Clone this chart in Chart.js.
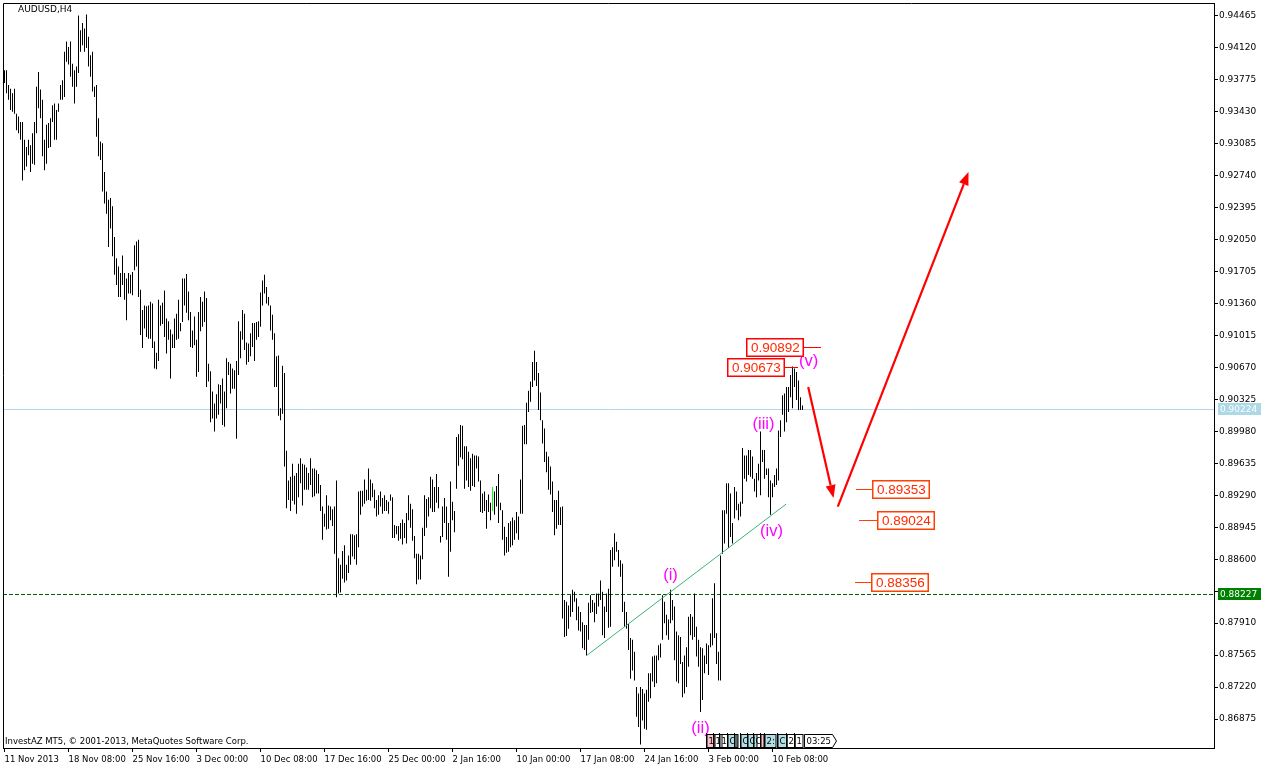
<!DOCTYPE html>
<html>
<head>
<meta charset="utf-8">
<script src="https://cdn.jsdelivr.net/npm/chart.js@4.4.0/dist/chart.umd.min.js"></script>
<style>
html, body { margin: 0; padding: 0; background: #fff; }
canvas { display: block; }
</style>
</head>
<body>
<canvas id="grafica" width="1267" height="771"></canvas>
<script>
// AUDUSD H4 - máximos y mínimos de cada vela
const highs = [
  0.9388,0.9388,0.9372,0.9368,0.9363,0.9368,0.9341,0.9338,0.9332,0.9332,
  0.9313,0.9305,0.9313,0.9307,0.9320,0.9332,0.9370,0.9386,0.9367,0.9356,
  0.9313,0.9329,0.9331,0.9336,0.9350,0.9352,0.9345,0.9352,0.9372,0.9377,
  0.9408,0.9419,0.9413,0.9419,0.9395,0.9388,0.9392,0.9447,0.9431,0.9439,
  0.9433,0.9448,0.9424,0.9404,0.9408,0.9370,0.9372,0.9336,0.9311,0.9309,
  0.9278,0.9257,0.9248,0.9250,0.9241,0.9208,0.9185,0.9176,0.9169,0.9188,
  0.9169,0.9163,0.9169,0.9167,0.9170,0.9199,0.9203,0.9205,
  0.9151,0.9129,0.9134,0.9133,0.9134,0.9138,0.9136,0.9095,0.9083,0.9140,
  0.9134,0.9137,0.9150,0.9120,0.9117,0.9108,0.9103,0.9120,0.9125,0.9140,
  0.9115,0.9163,0.9163,0.9168,0.9149,0.9127,0.9107,0.9122,0.9097,0.9127,
  0.9143,0.9138,0.9149,0.9142,0.9071,0.9063,0.9041,0.9028,0.9038,0.9049,
  0.9048,0.9055,0.9041,0.9077,0.9073,0.9071,0.9066,0.9064,0.9074,0.9117,
  0.9106,0.9129,0.9125,0.9094,0.9093,0.9104,0.9115,0.9115,0.9116,0.9117,
  0.9148,0.9161,0.9167,0.9154,0.9143,
  0.9134,0.9124,0.9104,0.9079,0.9080,0.9023,0.9069,0.9061,0.8977,0.8945,
  0.8949,0.8963,0.8950,0.8953,0.8963,0.8969,0.8963,0.8962,0.8959,0.8953,
  0.8969,0.8958,0.8958,0.8956,0.8952,0.8940,0.8917,0.8909,0.8929,0.8918,
  0.8917,0.8914,0.8917,0.8945,0.8861,0.8854,0.8869,0.8875,0.8854,0.8864,
  0.8887,0.8887,0.8886,0.8887,0.8933,0.8934,0.8934,0.8946,0.8935,0.8958,
  0.8946,0.8942,0.8935,0.8924,0.8929,0.8933,0.8926,0.8929,0.8924,0.8922,
  0.8930,0.8927,0.8897,0.8896,0.8896,0.8899,0.8903,0.8899,
  0.8910,0.8929,0.8920,0.8914,0.8885,0.8866,0.8866,0.8864,0.8894,0.8929,
  0.8925,0.8927,0.8949,0.8946,0.8938,0.8952,0.8938,0.8885,0.8917,0.8926,
  0.8917,0.8899,0.8944,0.8922,0.8912,0.8992,0.8995,0.9005,0.9004,0.8982,
  0.8982,0.8976,0.8969,0.8974,0.8972,0.8972,0.8971,0.8945,0.8931,0.8933,
  0.8924,0.8930,0.8921,0.8938,0.8933,0.8939,0.8952,0.8921,0.8913,0.8895,
  0.8884,0.8899,0.8901,0.8905,0.8902,0.8911,0.8906,0.8946,0.9004,0.9005,
  0.9029,0.9042,0.9052,0.9073,0.9085,0.9073,0.9061,
  0.9040,0.9010,0.9001,0.8976,0.8971,0.8960,0.8944,0.8924,0.8924,0.8934,
  0.8916,0.8917,0.8816,0.8814,0.8810,0.8821,0.8827,0.8825,0.8818,0.8809,
  0.8803,0.8792,0.8789,0.8789,0.8813,0.8821,0.8816,0.8813,0.8823,0.8823,
  0.8837,0.8825,0.8809,0.8823,0.8828,0.8870,0.8873,0.8888,0.8879,0.8870,
  0.8859,0.8855,0.8814,0.8803,0.8790,0.8775,0.8773,0.8760,0.8722,0.8715,
  0.8722,0.8720,0.8715,0.8719,0.8737,0.8737,0.8755,0.8756,0.8756,0.8767,
  0.8769,0.8821,0.8814,0.8800,0.8795,0.8827,0.8816,0.8809,
  0.8782,0.8778,0.8776,0.8749,0.8756,0.8765,0.8798,0.8801,0.8798,0.8823,
  0.8787,0.8773,0.8765,0.8764,0.8756,0.8769,0.8767,0.8780,0.8818,0.8834,
  0.8780,0.8760,0.8864,0.8913,0.8913,0.8942,0.8942,0.8931,0.8899,0.8938,
  0.8933,0.8920,0.8922,0.8980,0.8972,0.8972,0.8978,0.8978,0.8971,0.8947,
  0.8953,0.8963,0.8998,0.8978,0.8978,0.8958,0.8958,0.8945,0.8942,0.8951,
  0.8958,0.8999,0.9010,0.9037,0.9039,0.9046,0.9046,0.9059,0.9068,0.9066,
  0.9062,0.9053,0.9035,0.9026
];
const lows = [
  0.9374,0.9363,0.9356,0.9345,0.9343,0.9341,0.9323,0.9320,0.9313,0.9269,
  0.9280,0.9284,0.9296,0.9278,0.9287,0.9286,0.9320,0.9347,0.9336,0.9295,
  0.9280,0.9287,0.9304,0.9305,0.9332,0.9313,0.9313,0.9343,0.9356,0.9356,
  0.9359,0.9397,0.9394,0.9381,0.9370,0.9352,0.9370,0.9385,0.9408,0.9415,
  0.9408,0.9412,0.9392,0.9381,0.9365,0.9359,0.9316,0.9295,0.9291,0.9257,
  0.9244,0.9233,0.9197,0.9217,0.9187,0.9167,0.9156,0.9143,0.9143,0.9156,
  0.9140,0.9118,0.9147,0.9147,0.9145,0.9172,0.9176,0.9143,
  0.9102,0.9088,0.9109,0.9100,0.9098,0.9098,0.9088,0.9066,0.9065,0.9074,
  0.9112,0.9114,0.9100,0.9082,0.9097,0.9055,0.9088,0.9088,0.9097,0.9098,
  0.9106,0.9116,0.9134,0.9126,0.9118,0.9089,0.9088,0.9091,0.9057,0.9062,
  0.9106,0.9111,0.9116,0.9046,0.9052,0.9008,0.9012,0.8998,0.9012,0.9016,
  0.9028,0.9005,0.9003,0.9023,0.9059,0.9039,0.9044,0.9044,0.8990,0.9059,
  0.9077,0.9097,0.9086,0.9070,0.9073,0.9079,0.9089,0.9074,0.9097,0.9100,
  0.9111,0.9134,0.9147,0.9136,0.9134,
  0.9107,0.9097,0.9046,0.9046,0.9015,0.9010,0.9017,0.8960,0.8915,0.8924,
  0.8912,0.8923,0.8919,0.8909,0.8927,0.8942,0.8918,0.8935,0.8935,0.8935,
  0.8940,0.8927,0.8928,0.8931,0.8931,0.8912,0.8881,0.8895,0.8892,0.8893,
  0.8902,0.8896,0.8866,0.8819,0.8823,0.8824,0.8839,0.8835,0.8837,0.8845,
  0.8854,0.8863,0.8860,0.8854,0.8873,0.8908,0.8917,0.8920,0.8923,0.8924,
  0.8923,0.8927,0.8915,0.8906,0.8908,0.8917,0.8909,0.8912,0.8912,0.8909,
  0.8923,0.8883,0.8883,0.8887,0.8880,0.8882,0.8876,0.8883,
  0.8877,0.8902,0.8894,0.8880,0.8861,0.8833,0.8838,0.8838,0.8860,0.8885,
  0.8894,0.8906,0.8915,0.8911,0.8911,0.8921,0.8915,0.8878,0.8884,0.8899,
  0.8881,0.8841,0.8868,0.8902,0.8889,0.8936,0.8961,0.8970,0.8968,0.8936,
  0.8945,0.8938,0.8934,0.8939,0.8938,0.8958,0.8944,0.8911,0.8910,0.8912,
  0.8893,0.8911,0.8902,0.8912,0.8908,0.8917,0.8899,0.8913,0.8881,0.8864,
  0.8867,0.8868,0.8873,0.8875,0.8881,0.8888,0.8881,0.8909,0.8909,0.8984,
  0.8984,0.9019,0.9030,0.9046,0.9053,0.9047,0.9021,
  0.9010,0.8985,0.8965,0.8954,0.8935,0.8930,0.8911,0.8886,0.8893,0.8897,
  0.8897,0.8796,0.8776,0.8777,0.8785,0.8798,0.8803,0.8814,0.8794,0.8783,
  0.8782,0.8764,0.8762,0.8756,0.8773,0.8802,0.8803,0.8792,0.8801,0.8809,
  0.8816,0.8778,0.8775,0.8803,0.8786,0.8787,0.8852,0.8859,0.8868,0.8852,
  0.8841,0.8803,0.8787,0.8785,0.8762,0.8731,0.8740,0.8729,0.8690,0.8679,
  0.8660,0.8686,0.8677,0.8676,0.8706,0.8710,0.8728,0.8722,0.8726,0.8751,
  0.8754,0.8773,0.8791,0.8778,0.8773,0.8791,0.8794,0.8751,
  0.8728,0.8726,0.8747,0.8711,0.8715,0.8722,0.8744,0.8778,0.8773,0.8776,
  0.8755,0.8744,0.8695,0.8708,0.8737,0.8747,0.8735,0.8765,0.8767,0.8775,
  0.8747,0.8729,0.8729,0.8866,0.8877,0.8909,0.8872,0.8884,0.8877,0.8904,
  0.8913,0.8902,0.8906,0.8920,0.8947,0.8944,0.8951,0.8949,0.8947,0.8933,
  0.8927,0.8945,0.8929,0.8965,0.8947,0.8951,0.8927,0.8908,0.8927,0.8938,
  0.8940,0.8945,0.8992,0.9016,0.8998,0.9008,0.9019,0.9035,0.9023,0.9046,
  0.9032,0.9021,0.9021,0.9021
];
const greenBar = 244; // vela marcada en verde

// eje de tiempo: una etiqueta cada 32 velas
const timeLabelBars = [0, 32, 64, 96, 128, 160, 192, 224, 256, 288, 320, 352, 384];
const timeLabels = ["11 Nov 2013", "18 Nov 08:00", "25 Nov 16:00", "3 Dec 00:00", "10 Dec 08:00",
  "17 Dec 16:00", "25 Dec 00:00", "2 Jan 16:00", "10 Jan 00:00", "17 Jan 08:00",
  "24 Jan 16:00", "3 Feb 00:00", "10 Feb 08:00"];
// eje de precios
const priceTicks = [0.86875, 0.87220, 0.87565, 0.87910, 0.88255, 0.88600, 0.88945, 0.89290,
  0.89635, 0.89980, 0.90325, 0.90670, 0.91015, 0.91360, 0.91705, 0.92050, 0.92395,
  0.92740, 0.93085, 0.93430, 0.93775, 0.94120, 0.94465];

const bidPrice = 0.90224;
const levelPrice = 0.88227;
const trendLine = [{x: 291.3, y: 0.87564}, {x: 390.8, y: 0.89195}];
// ondas de Elliott (vela, precio)
const waveLabels = [
  {text: "(i)", bar: 333, price: 0.88429},
  {text: "(ii)", bar: 348, price: 0.86778},
  {text: "(iii)", bar: 379.5, price: 0.90060},
  {text: "(iv)", bar: 383.5, price: 0.88905},
  {text: "(v)", bar: 402, price: 0.90740}
];
// etiquetas de precio con su línea
const priceBoxes = [
  {text: "0.90892", price: 0.90892, from: 399.5, to: 408, side: "left"},
  {text: "0.90673", price: 0.90673, from: 390, to: 396.5, side: "left"},
  {text: "0.89353", price: 0.89353, from: 425.5, to: 433.5, side: "right"},
  {text: "0.89024", price: 0.89024, from: 427, to: 436, side: "right"},
  {text: "0.88356", price: 0.88356, from: 425, to: 433, side: "right"}
];
// flechas de proyección
const arrows = [
  {x1: 401.85, y1: 0.90459, x2: 414.5, y2: 0.89261},
  {x1: 416.65, y1: 0.89167, x2: 482, y2: 0.92781}
];
// líneas verticales de eventos abajo a la derecha
const eventMarks = [
  {bar: 350.8, text: "1", kind: 2}, {bar: 354.3, text: "1", kind: 0}, {bar: 357.3, text: "1", kind: 0},
  {bar: 361.3, text: "C", kind: 1}, {bar: 364.5, text: "", kind: 0}, {bar: 367.8, text: "C", kind: 1},
  {bar: 371.3, text: "C", kind: 1}, {bar: 374.3, text: "C", kind: 0}, {bar: 377.8, text: "", kind: 2},
  {bar: 379.8, text: "2:", kind: 1}, {bar: 386.3, text: "C", kind: 1}, {bar: 390.8, text: "2", kind: 0},
  {bar: 394.8, text: "1", kind: 0}
];
const timeLeft = "03:25";

const fontAxis = '"DejaVu Sans", Verdana, sans-serif';
const fontLabel = '"Liberation Sans", Arial, sans-serif';

function arrow(ctx, x1, y1, x2, y2) {
  const ang = Math.atan2(y2 - y1, x2 - x1);
  const len = 13, half = 5;
  const bx = x2 - Math.cos(ang) * len, by = y2 - Math.sin(ang) * len;
  ctx.beginPath();
  ctx.moveTo(x1, y1);
  ctx.lineTo(bx, by);
  ctx.stroke();
  ctx.beginPath();
  ctx.moveTo(x2, y2);
  ctx.lineTo(bx + Math.sin(ang) * half, by - Math.cos(ang) * half);
  ctx.lineTo(bx - Math.sin(ang) * half, by + Math.cos(ang) * half);
  ctx.closePath();
  ctx.fill();
}

const dibujo = {
  id: "dibujo",
  beforeDatasetsDraw(chart) {
    const {ctx, chartArea: a, scales: {y}} = chart;
    ctx.save();
    let py = Math.round(y.getPixelForValue(bidPrice)) + 0.5;
    ctx.strokeStyle = "#add8e6";
    ctx.lineWidth = 1;
    ctx.beginPath(); ctx.moveTo(a.left, py); ctx.lineTo(a.right, py); ctx.stroke();
    py = Math.round(y.getPixelForValue(levelPrice)) + 0.5;
    ctx.strokeStyle = "#006400";
    ctx.setLineDash([4, 2]);
    ctx.beginPath(); ctx.moveTo(a.left, py); ctx.lineTo(a.right, py); ctx.stroke();
    ctx.restore();
  },
  afterDatasetsDraw(chart) {
    const {ctx, scales: {x, y}} = chart;
    ctx.save();
    // ondas
    ctx.font = "16.5px " + fontLabel;
    ctx.fillStyle = "#ff00ff";
    ctx.textAlign = "center";
    ctx.textBaseline = "middle";
    waveLabels.forEach(w => ctx.fillText(w.text, x.getPixelForValue(w.bar), y.getPixelForValue(w.price)));
    // cajas de precio
    ctx.font = "13.5px " + fontLabel;
    ctx.textAlign = "left";
    priceBoxes.forEach(b => {
      const col = b.side === "left" ? "#ff0000" : "#ff4000";
      const py = Math.round(y.getPixelForValue(b.price)) + 0.5;
      const x1 = Math.round(x.getPixelForValue(b.from)), x2 = Math.round(x.getPixelForValue(b.to));
      ctx.strokeStyle = col;
      ctx.lineWidth = 1;
      ctx.beginPath(); ctx.moveTo(x1, py); ctx.lineTo(x2, py); ctx.stroke();
      const w = Math.round(ctx.measureText(b.text).width) + 9, h = 19;
      const bx = b.side === "left" ? x1 - w : x2;
      const by = Math.round(py - h / 2);
      ctx.fillStyle = "#fff";
      ctx.fillRect(bx, by, w, h);
      ctx.lineWidth = 1.5;
      ctx.strokeRect(bx + 0.75, by + 0.75, w - 1.5, h - 1.5);
      ctx.fillStyle = "#ff2a00";
      ctx.fillText(b.text, bx + 5, py + 1);
    });
    // flechas
    ctx.strokeStyle = "#ff0000";
    ctx.fillStyle = "#ff0000";
    ctx.lineWidth = 2.2;
    arrows.forEach(r => arrow(ctx, x.getPixelForValue(r.x1), y.getPixelForValue(r.y1),
      x.getPixelForValue(r.x2), y.getPixelForValue(r.y2)));
    ctx.restore();
  },
  afterDraw(chart) {
    const {ctx, chartArea: a, scales: {x, y}} = chart;
    ctx.save();
    // marco
    ctx.strokeStyle = "#000";
    ctx.lineWidth = 1;
    ctx.beginPath();
    ctx.moveTo(a.left + 0.5, a.bottom); ctx.lineTo(a.left + 0.5, a.top + 0.5); ctx.lineTo(a.right, a.top + 0.5);
    ctx.stroke();
    // cajas del eje de precios
    ctx.font = "9px " + fontAxis;
    ctx.textBaseline = "middle";
    [[bidPrice, "#add8e6"], [levelPrice, "#008000"]].forEach(([p, c]) => {
      const py = Math.round(y.getPixelForValue(p));
      ctx.fillStyle = c;
      ctx.fillRect(a.right + 4, py - 6, 43, 12);
      ctx.fillStyle = "#fff";
      ctx.fillText(p.toFixed(5), a.right + 6, py + 0.5);
    });
    // textos
    ctx.fillStyle = "#000";
    ctx.font = "9px " + fontAxis;
    ctx.fillText("AUDUSD,H4", a.left + 15, a.top + 7);
    ctx.font = "8.5px " + fontAxis;
    ctx.fillText("InvestAZ MT5, \u00a9 2001-2013, MetaQuotes Software Corp.", a.left + 2, a.bottom - 6);
    // eventos
    const top = a.bottom - 15;
    ctx.font = "8.5px " + fontAxis;
    eventMarks.forEach(m => {
      const px = Math.round(x.getPixelForValue(m.bar)) + 0.5;
      ctx.strokeStyle = "#000";
      ctx.beginPath(); ctx.moveTo(px, top); ctx.lineTo(px, a.bottom); ctx.stroke();
      const w = m.text ? Math.round(ctx.measureText(m.text).width) + 3 : 3;
      if (m.kind) {
        ctx.fillStyle = m.kind === 1 ? "#b0e0e6" : "#ffc0cb";
        ctx.fillRect(px + 0.5, top + 2, w, 12);
      }
      ctx.strokeRect(px + 0.5, top + 1.5, w, 13);
      ctx.fillStyle = "#000";
      ctx.fillText(m.text, px + 2, top + 8.5);
    });
    // tiempo restante de la vela
    const lx = Math.round(x.getPixelForValue(highs.length - 0.25)) + 0.5;
    const tw = Math.round(ctx.measureText(timeLeft).width) + 4;
    ctx.fillStyle = "#fff";
    ctx.beginPath();
    ctx.moveTo(lx, top + 1.5); ctx.lineTo(lx + tw, top + 1.5); ctx.lineTo(lx + tw + 4, top + 8);
    ctx.lineTo(lx + tw, top + 14.5); ctx.lineTo(lx, top + 14.5); ctx.closePath();
    ctx.fill(); ctx.stroke();
    ctx.fillStyle = "#000";
    ctx.fillText(timeLeft, lx + 2, top + 8.5);
    ctx.restore();
  }
};

const $grafica = document.querySelector("#grafica");
new Chart($grafica, {
  type: "bar",
  data: {
    datasets: [
      {
        type: "bar",
        data: highs.map((h, i) => ({x: i, y: [lows[i], h]})),
        backgroundColor: c => c.dataIndex === greenBar ? "#00ff00" : "#000000",
        barThickness: 1,
        borderWidth: 0,
        inflateAmount: 0,
        order: 1
      },
      {
        type: "line",
        data: trendLine,
        borderColor: "#3cb371",
        borderWidth: 1,
        pointRadius: 0,
        order: 0
      }
    ]
  },
  options: {
    responsive: false,
    animation: false,
    devicePixelRatio: 1,
    events: [],
    layout: {padding: {left: 3, top: 3, right: 0, bottom: 0}},
    plugins: {legend: {display: false}, tooltip: {enabled: false}},
    scales: {
      x: {
        type: "linear",
        min: -0.75,
        max: 604.75,
        offset: false,
        afterBuildTicks: s => { s.ticks = timeLabelBars.map(v => ({value: v})); },
        afterFit: s => { s.height = 23; s.paddingLeft = 0; s.paddingRight = 0; },
        ticks: {
          callback: (v, i) => timeLabels[i],
          align: "start",
          autoSkip: false,
          maxRotation: 0,
          padding: 3,
          color: "#000",
          font: {family: fontAxis, size: 8.5}
        },
        grid: {offset: false, drawOnChartArea: false, drawTicks: true, tickLength: 4, color: "#000"},
        border: {display: true, color: "#000"}
      },
      y: {
        position: "right",
        min: 0.86562,
        max: 0.94605,
        afterBuildTicks: s => { s.ticks = priceTicks.map(v => ({value: v})); },
        afterFit: s => { s.width = 53; s.paddingTop = 0; s.paddingBottom = 0; },
        ticks: {
          // la etiqueta tapada por la caja del nivel no se muestra
          callback: v => Math.abs(v - levelPrice) < 0.0006 ? "" : v.toFixed(5),
          padding: 1,
          color: "#000",
          font: {family: fontAxis, size: 9}
        },
        grid: {drawOnChartArea: false, drawTicks: true, tickLength: 4, color: "#000"},
        border: {display: true, color: "#000"}
      }
    }
  },
  plugins: [dibujo]
});
</script>
</body>
</html>
